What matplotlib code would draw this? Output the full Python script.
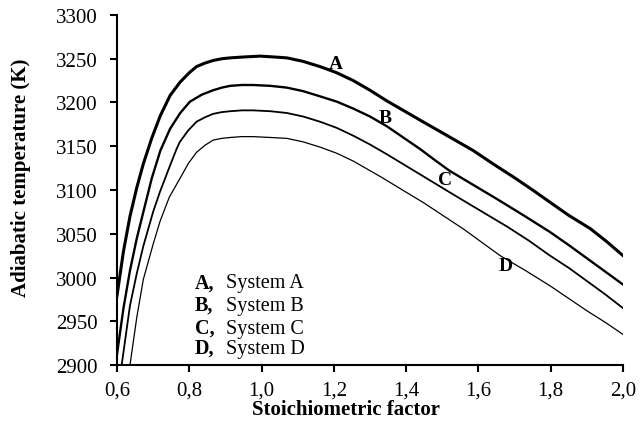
import matplotlib
matplotlib.use("Agg")
import matplotlib.pyplot as plt

plt.rcParams["font.family"] = ["Liberation Serif", "DejaVu Serif"]

# Adiabatic temperature (K) versus stoichiometric factor for four systems
x_a = [0.600, 0.618, 0.636, 0.655, 0.673, 0.696, 0.720, 0.747, 0.774, 0.800,
       0.820, 0.843, 0.866, 0.890, 0.913, 0.950, 0.996, 1.035, 1.070, 1.115,
       1.162, 1.208, 1.254, 1.300, 1.346, 1.392, 1.438, 1.510, 1.586, 1.640,
       1.700, 1.750, 1.798, 1.850, 1.909, 1.955, 2.000]
t_a = [2979, 3030, 3070, 3103, 3130, 3159, 3185, 3208, 3223, 3234,
       3241, 3245, 3248, 3250, 3251, 3252, 3253, 3252, 3251, 3247,
       3241, 3234, 3225, 3214, 3202, 3191, 3180, 3163, 3145, 3130,
       3114, 3100, 3086, 3071, 3056, 3041, 3025]

x_b = [0.600, 0.618, 0.636, 0.655, 0.673, 0.696, 0.720, 0.747, 0.775, 0.802,
       0.835, 0.866, 0.890, 0.913, 0.945, 0.977, 1.025, 1.070, 1.115, 1.162,
       1.208, 1.254, 1.300, 1.346, 1.392, 1.438, 1.480, 1.520, 1.585, 1.650,
       1.725, 1.798, 1.850, 1.900, 1.950, 2.000]
t_b = [2912, 2965, 3008, 3045, 3075, 3113, 3145, 3170, 3188, 3201,
       3209, 3214, 3217, 3219, 3220, 3220, 3219, 3217, 3213, 3207,
       3201, 3193, 3184, 3173, 3160, 3147, 3134, 3122, 3106, 3090,
       3071, 3052, 3037, 3022, 3007, 2992]

x_c = [0.613, 0.636, 0.655, 0.673, 0.700, 0.719, 0.745, 0.765, 0.774, 0.797,
       0.820, 0.843, 0.866, 0.890, 0.913, 0.945, 0.977, 1.025, 1.070, 1.115,
       1.162, 1.208, 1.254, 1.300, 1.346, 1.390, 1.430, 1.490, 1.550, 1.615,
       1.680, 1.740, 1.798, 1.850, 1.900, 1.950, 2.000]
t_c = [2900, 2968, 3005, 3036, 3075, 3098, 3126, 3147, 3155, 3168,
       3178, 3183, 3187, 3189, 3190, 3191, 3191, 3190, 3188, 3184,
       3178, 3171, 3162, 3152, 3141, 3130, 3120, 3105, 3090, 3074,
       3058, 3042, 3025, 3011, 2996, 2981, 2965]

x_d = [0.636, 0.655, 0.673, 0.700, 0.719, 0.745, 0.774, 0.797, 0.820, 0.843,
       0.866, 0.890, 0.913, 0.945, 0.977, 1.025, 1.070, 1.115, 1.162, 1.208,
       1.254, 1.292, 1.330, 1.390, 1.450, 1.505, 1.560, 1.610, 1.660, 1.730,
       1.800, 1.850, 1.900, 1.950, 2.000]
t_d = [2900, 2955, 2998, 3038, 3064, 3092, 3113, 3130, 3143, 3151,
       3157, 3159, 3160, 3161, 3161, 3160, 3159, 3155, 3149, 3142,
       3133, 3124, 3115, 3100, 3085, 3070, 3055, 3040, 3025, 3008,
       2990, 2976, 2962, 2949, 2935]

curve_names = ["A", "B", "C", "D"]
system_names = ["System A", "System B", "System C", "System D"]

x_ticks = [0.6, 0.8, 1.0, 1.2, 1.4, 1.6, 1.8, 2.0]
x_tick_labels = ["0,6", "0,8", "1,0", "1,2", "1,4", "1,6", "1,8", "2,0"]
y_ticks = [2900, 2950, 3000, 3050, 3100, 3150, 3200, 3250, 3300]

fig = plt.figure(figsize=(6.42, 4.31), dpi=100)
ax = fig.add_axes([0.1822, 0.1508, 0.7882, 0.8121])

series = [(x_a, t_a, 2.2), (x_b, t_b, 1.7), (x_c, t_c, 1.3), (x_d, t_d, 0.9)]
for xs, ts, lw in series:
    ax.plot(xs, ts, color="black", lw=lw, solid_joinstyle="round")

# curve letters placed next to each line
label_pos = [(1.207, 3244), (1.342, 3183), (1.508, 3112), (1.676, 3014)]
for name, (lx, ly) in zip(curve_names, label_pos):
    ax.text(lx, ly, name, fontsize=14, fontweight="bold", ha="center", va="center")

# key listing the systems
key_y = [2989, 2963, 2937, 2914]
for name, sysname, ky in zip(curve_names, system_names, key_y):
    ax.text(0.816, ky, name + ",", fontsize=14.5, fontweight="bold", ha="left", va="baseline")
    ax.text(0.902, ky, sysname, fontsize=14.5, ha="left", va="baseline")

ax.set_xlim(0.6, 2.0)
ax.set_ylim(2900, 3300)
ax.set_xticks(x_ticks)
ax.set_xticklabels(x_tick_labels)
ax.set_yticks(y_ticks)

for side in ("top", "right"):
    ax.spines[side].set_visible(False)
for side in ("left", "bottom"):
    ax.spines[side].set_linewidth(1.5)

ax.tick_params(axis="both", direction="out", length=5, width=1.5, labelsize=15)
ax.tick_params(axis="y", pad=9)
ax.tick_params(axis="x", pad=6)

fig.text(346 / 642, 1 - 410 / 431, "Stoichiometric factor", fontsize=15,
         fontweight="bold", ha="center", va="center")
fig.text(21 / 642, 1 - 178 / 431, "Adiabatic temperature (K)", fontsize=15,
         fontweight="bold", ha="center", va="center", rotation=90)

fig.savefig("out.png", dpi=100)
